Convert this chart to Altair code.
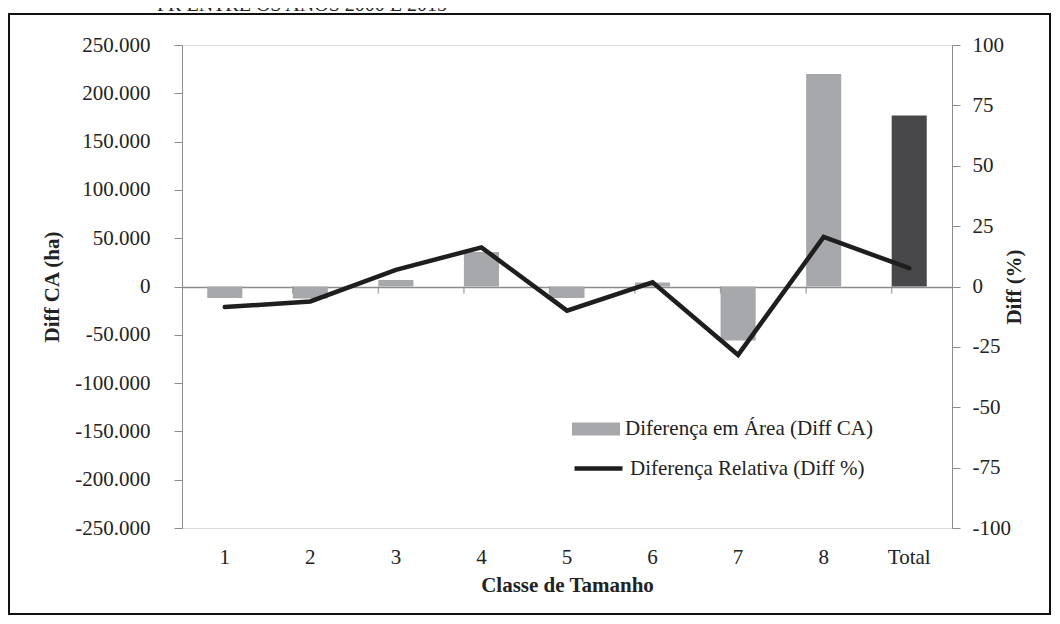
import altair as alt
import pandas as pd

categories = ["1", "2", "3", "4", "5", "6", "7", "8", "Total"]
diff_ca = [-12000, -12500, 6600, 35600, -12000, 4100, -56000, 220000, 177000]
diff_pct = [-8.5, -6.2, 6.9, 16.2, -10.0, 1.7, -28.3, 20.5, 7.6]
bar_label = "Diferença em Área (Diff CA)"
bar_group = [bar_label] * 8 + ["Total"]
line_label = "Diferença Relativa (Diff %)"
heading = "PR ENTRE OS ANOS 2000 E 2015"
left_ticks = [-250000, -200000, -150000, -100000, -50000, 0, 50000, 100000, 150000, 200000, 250000]
right_ticks = [-100, -75, -50, -25, 0, 25, 50, 75, 100]

df = pd.DataFrame({"classe": categories, "ca": diff_ca, "pct": diff_pct,
                   "grupo": bar_group, "serie": line_label})

FONT = "Liberation Serif"
AX = "#8c8c8c"
TXT = "#222222"
W, H = 770, 483
FS = 21

x_axis = alt.Axis(title="Classe de Tamanho", orient="bottom", offset=-241.5,
                  labelAngle=0, domain=False, ticks=False,
                  labelPadding=260, titleY=288,
                  labelFont=FONT, titleFont=FONT, labelFontSize=FS, titleFontSize=FS,
                  titleFontWeight="bold", labelColor=TXT, titleColor=TXT)
x_scale = alt.Scale(paddingInner=0.59, paddingOuter=0.295)
y_left_scale = alt.Scale(domain=[-250000, 250000], nice=False, zero=False)

bars = alt.Chart(df).mark_bar().encode(
    x=alt.X("classe:N", sort=categories, scale=x_scale, axis=x_axis),
    y=alt.Y("ca:Q", scale=y_left_scale,
            axis=alt.Axis(title="Diff CA (ha)", values=left_ticks,
                          grid=True,
                          gridColor=alt.condition("datum.value === 0", alt.value(AX), alt.value("transparent")),
                          gridWidth=1.5,
                          labelExpr="replace(replace(format(datum.value, ','), ',', '.'), '−', '-')",
                          domainColor=AX, tickColor=AX, tickSize=8, labelPadding=24,
                          titlePadding=12, labelFont=FONT, titleFont=FONT,
                          labelFontSize=FS, titleFontSize=FS, titleFontWeight="bold",
                          labelColor=TXT, titleColor=TXT)),
    color=alt.Color("grupo:N",
                    scale=alt.Scale(domain=[bar_label, "Total"], range=["#a7a8ab", "#48484a"]),
                    legend=alt.Legend(values=[bar_label], orient="none", legendX=390, legendY=360,
                                      title=None, symbolType="M-1,-0.27H1V0.27H-1Z",
                                      symbolSize=2304, symbolStrokeWidth=0, labelOffset=5,
                                      labelFont=FONT, labelFontSize=FS, labelColor=TXT,
                                      padding=0, labelLimit=400)),
)

# category-boundary tick marks on the zero line
cat_ticks = alt.Chart(df).transform_filter("datum.classe != '1'").mark_tick(
    orient="vertical", size=7, thickness=1.5, color=AX, yOffset=3.5
).encode(
    x=alt.X("classe:N", sort=categories, scale=x_scale, axis=x_axis, bandPosition=0),
    y=alt.datum(0, scale=y_left_scale),
)

left_layer = alt.layer(bars, cat_ticks)

line = alt.Chart(df).mark_line(strokeWidth=4.5, strokeCap="round", strokeJoin="miter").encode(
    x=alt.X("classe:N", sort=categories, scale=x_scale, axis=x_axis),
    y=alt.Y("pct:Q", scale=alt.Scale(domain=[-100, 100], nice=False, zero=False),
            axis=alt.Axis(title="Diff (%)", orient="right", values=right_ticks, grid=False,
                          labelExpr="replace(format(datum.value, 'd'), '−', '-')",
                          titleAngle=270, domainColor=AX, tickColor=AX, tickSize=8,
                          labelPadding=12, titlePadding=14, labelFont=FONT, titleFont=FONT,
                          labelFontSize=FS, titleFontSize=FS, titleFontWeight="bold",
                          labelColor=TXT, titleColor=TXT)),
    stroke=alt.Stroke("serie:N", scale=alt.Scale(domain=[line_label], range=["#1e1e1e"]),
                      legend=alt.Legend(orient="none", legendX=390, legendY=397, title=None,
                                        symbolType="M-1,0H1", symbolSize=2304,
                                        symbolStrokeWidth=4.5, labelOffset=5,
                                        labelFont=FONT, labelFontSize=FS, labelColor=TXT,
                                        padding=0, labelLimit=400)),
)

frame = alt.Chart(pd.DataFrame({"f": [1]})).mark_rect(
    fillOpacity=0, stroke="#111111", strokeWidth=2
).encode(x=alt.value(-173), x2=alt.value(868), y=alt.value(-31), y2=alt.value(569))

top_text = alt.Chart(pd.DataFrame({"t": [heading]})).mark_text(
    font=FONT, fontSize=20, align="left", baseline="alphabetic", color=TXT
).encode(text="t:N", x=alt.value(-25), y=alt.value(-34))

chart = alt.layer(left_layer, line, frame, top_text).resolve_scale(
    y="independent"
).properties(
    width=W, height=H,
    autosize=alt.AutoSizeParams(type="none"),
    padding={"left": 174, "top": 37, "right": 100, "bottom": 88},
).configure_view(stroke=None).configure(background="white")

chart.save("out.html", embed_options={"renderer": "svg", "actions": False})
